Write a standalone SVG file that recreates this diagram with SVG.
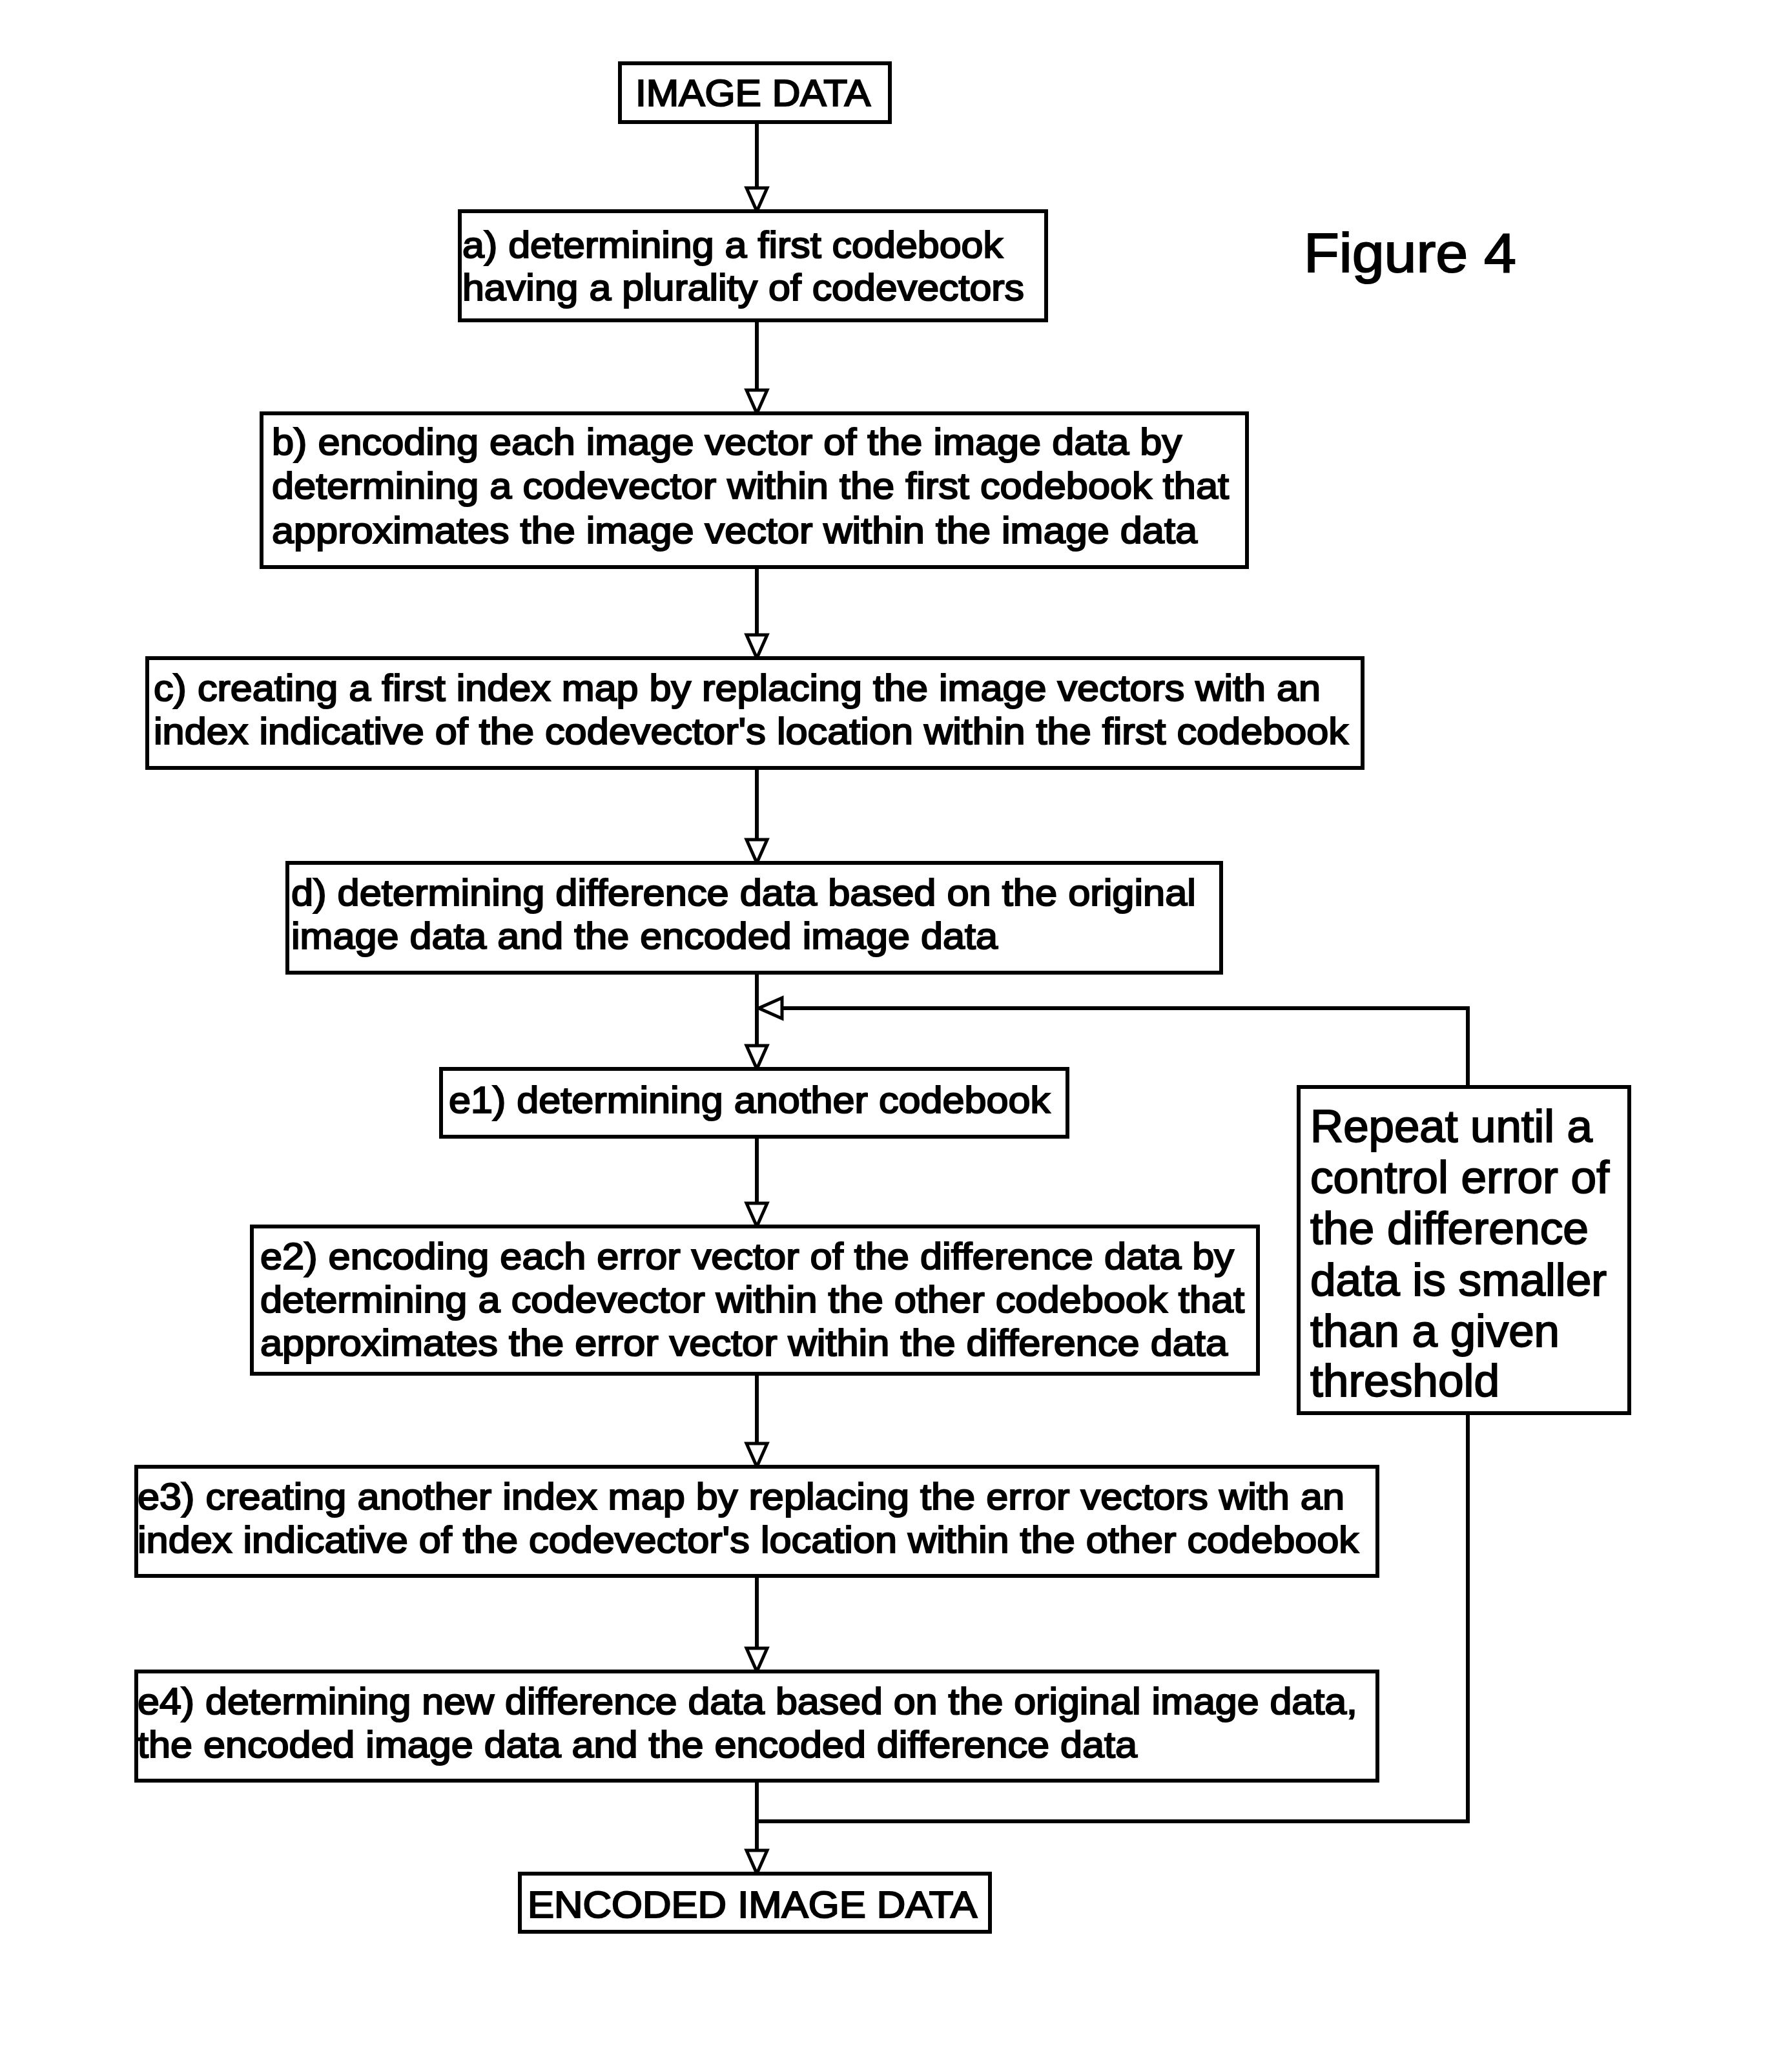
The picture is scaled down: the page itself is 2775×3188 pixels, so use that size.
<svg xmlns="http://www.w3.org/2000/svg" width="2775" height="3188" viewBox="0 0 2775 3188">
<style>
.box{fill:#fff;stroke:#000;stroke-width:6}
.t{font-family:"Liberation Sans",Arial,sans-serif;font-size:58px;fill:#000;stroke:#000;stroke-width:2.2}
.r{font-family:"Liberation Sans",Arial,sans-serif;font-size:70px;fill:#000;stroke:#000;stroke-width:2}
.c{fill:none;stroke:#000;stroke-width:6}
</style>
<defs>
<marker id="ah" viewBox="-4 -22 44 44" refX="36" refY="0" markerWidth="44" markerHeight="44" markerUnits="userSpaceOnUse" orient="auto">
<path d="M0,-16 L36,0 L0,16 Z" fill="#fff" stroke="#000" stroke-width="5"/>
</marker>
</defs>
<rect width="2775" height="3188" fill="#fff"/>
<g id="connectors">
<path class="c" d="M1172,189 V327" marker-end="url(#ah)"/>
<path class="c" d="M1172,496 V640" marker-end="url(#ah)"/>
<path class="c" d="M1172,878 V1019" marker-end="url(#ah)"/>
<path class="c" d="M1172,1189 V1336" marker-end="url(#ah)"/>
<path class="c" d="M1172,1506 V1655" marker-end="url(#ah)"/>
<path class="c" d="M1172,1760 V1899" marker-end="url(#ah)"/>
<path class="c" d="M1172,2127 V2271" marker-end="url(#ah)"/>
<path class="c" d="M1172,2440 V2588" marker-end="url(#ah)"/>
<path class="c" d="M1172,2757 V2901" marker-end="url(#ah)"/>
<path class="c" d="M2273,1683 V1561 H1175" marker-end="url(#ah)"/>
<path class="c" d="M2273,2188 V2820 H1172"/>
</g>
<g id="n_image_data">
<rect class="box" x="960" y="98" width="418" height="91"/>
<text class="t" x="984" y="164" textLength="364" lengthAdjust="spacingAndGlyphs">IMAGE DATA</text>
</g>
<g id="n_a">
<rect class="box" x="712" y="327" width="908" height="169"/>
<text class="t" x="716" y="399" textLength="837" lengthAdjust="spacingAndGlyphs">a) determining a first codebook</text>
<text class="t" x="716" y="465" textLength="870" lengthAdjust="spacingAndGlyphs">having a plurality of codevectors</text>
</g>
<g id="n_b">
<rect class="box" x="405" y="640" width="1526" height="238"/>
<text class="t" x="421" y="704" textLength="1409" lengthAdjust="spacingAndGlyphs">b) encoding each image vector of the image data by</text>
<text class="t" x="421" y="772" textLength="1482" lengthAdjust="spacingAndGlyphs">determining a codevector within the first codebook that</text>
<text class="t" x="421" y="841" textLength="1433" lengthAdjust="spacingAndGlyphs">approximates the image vector within the image data</text>
</g>
<g id="n_c">
<rect class="box" x="228" y="1019" width="1882" height="170"/>
<text class="t" x="238" y="1085" textLength="1807" lengthAdjust="spacingAndGlyphs">c) creating a first index map by replacing the image vectors with an</text>
<text class="t" x="238" y="1152" textLength="1850" lengthAdjust="spacingAndGlyphs">index indicative of the codevector's location within the first codebook</text>
</g>
<g id="n_d">
<rect class="box" x="445" y="1336" width="1446" height="170"/>
<text class="t" x="451" y="1402" textLength="1401" lengthAdjust="spacingAndGlyphs">d) determining difference data based on the original</text>
<text class="t" x="451" y="1469" textLength="1094" lengthAdjust="spacingAndGlyphs">image data and the encoded image data</text>
</g>
<g id="n_e1">
<rect class="box" x="683" y="1655" width="970" height="105"/>
<text class="t" x="695" y="1723" textLength="931" lengthAdjust="spacingAndGlyphs">e1) determining another codebook</text>
</g>
<g id="n_repeat">
<rect class="box" x="2011" y="1683" width="512" height="505"/>
<text class="r" x="2029" y="1768" textLength="437" lengthAdjust="spacingAndGlyphs">Repeat until a</text>
<text class="r" x="2029" y="1847" textLength="463" lengthAdjust="spacingAndGlyphs">control error of</text>
<text class="r" x="2029" y="1926" textLength="431" lengthAdjust="spacingAndGlyphs">the difference</text>
<text class="r" x="2029" y="2006" textLength="459" lengthAdjust="spacingAndGlyphs">data is smaller</text>
<text class="r" x="2029" y="2085" textLength="386" lengthAdjust="spacingAndGlyphs">than a given</text>
<text class="r" x="2029" y="2162" textLength="293" lengthAdjust="spacingAndGlyphs">threshold</text>
</g>
<g id="n_e2">
<rect class="box" x="390" y="1899" width="1558" height="228"/>
<text class="t" x="403" y="1965" textLength="1508" lengthAdjust="spacingAndGlyphs">e2) encoding each error vector of the difference data by</text>
<text class="t" x="403" y="2032" textLength="1524" lengthAdjust="spacingAndGlyphs">determining a codevector within the other codebook that</text>
<text class="t" x="403" y="2099" textLength="1498" lengthAdjust="spacingAndGlyphs">approximates the error vector within the difference data</text>
</g>
<g id="n_e3">
<rect class="box" x="211" y="2271" width="1922" height="169"/>
<text class="t" x="213" y="2337" textLength="1869" lengthAdjust="spacingAndGlyphs">e3) creating another index map by replacing the error vectors with an</text>
<text class="t" x="213" y="2404" textLength="1891" lengthAdjust="spacingAndGlyphs">index indicative of the codevector's location within the other codebook</text>
</g>
<g id="n_e4">
<rect class="box" x="211" y="2588" width="1922" height="169"/>
<text class="t" x="213" y="2654" textLength="1889" lengthAdjust="spacingAndGlyphs">e4) determining new difference data based on the original image data,</text>
<text class="t" x="213" y="2721" textLength="1548" lengthAdjust="spacingAndGlyphs">the encoded image data and the encoded difference data</text>
</g>
<g id="n_encoded">
<rect class="box" x="805" y="2901" width="728" height="90"/>
<text class="t" x="817" y="2969" textLength="696" lengthAdjust="spacingAndGlyphs">ENCODED IMAGE DATA</text>
</g>
<text x="2019" y="421" font-family="Liberation Sans, Arial, sans-serif" font-size="86" textLength="329" lengthAdjust="spacingAndGlyphs" stroke="#000" stroke-width="2">Figure 4</text>
</svg>
